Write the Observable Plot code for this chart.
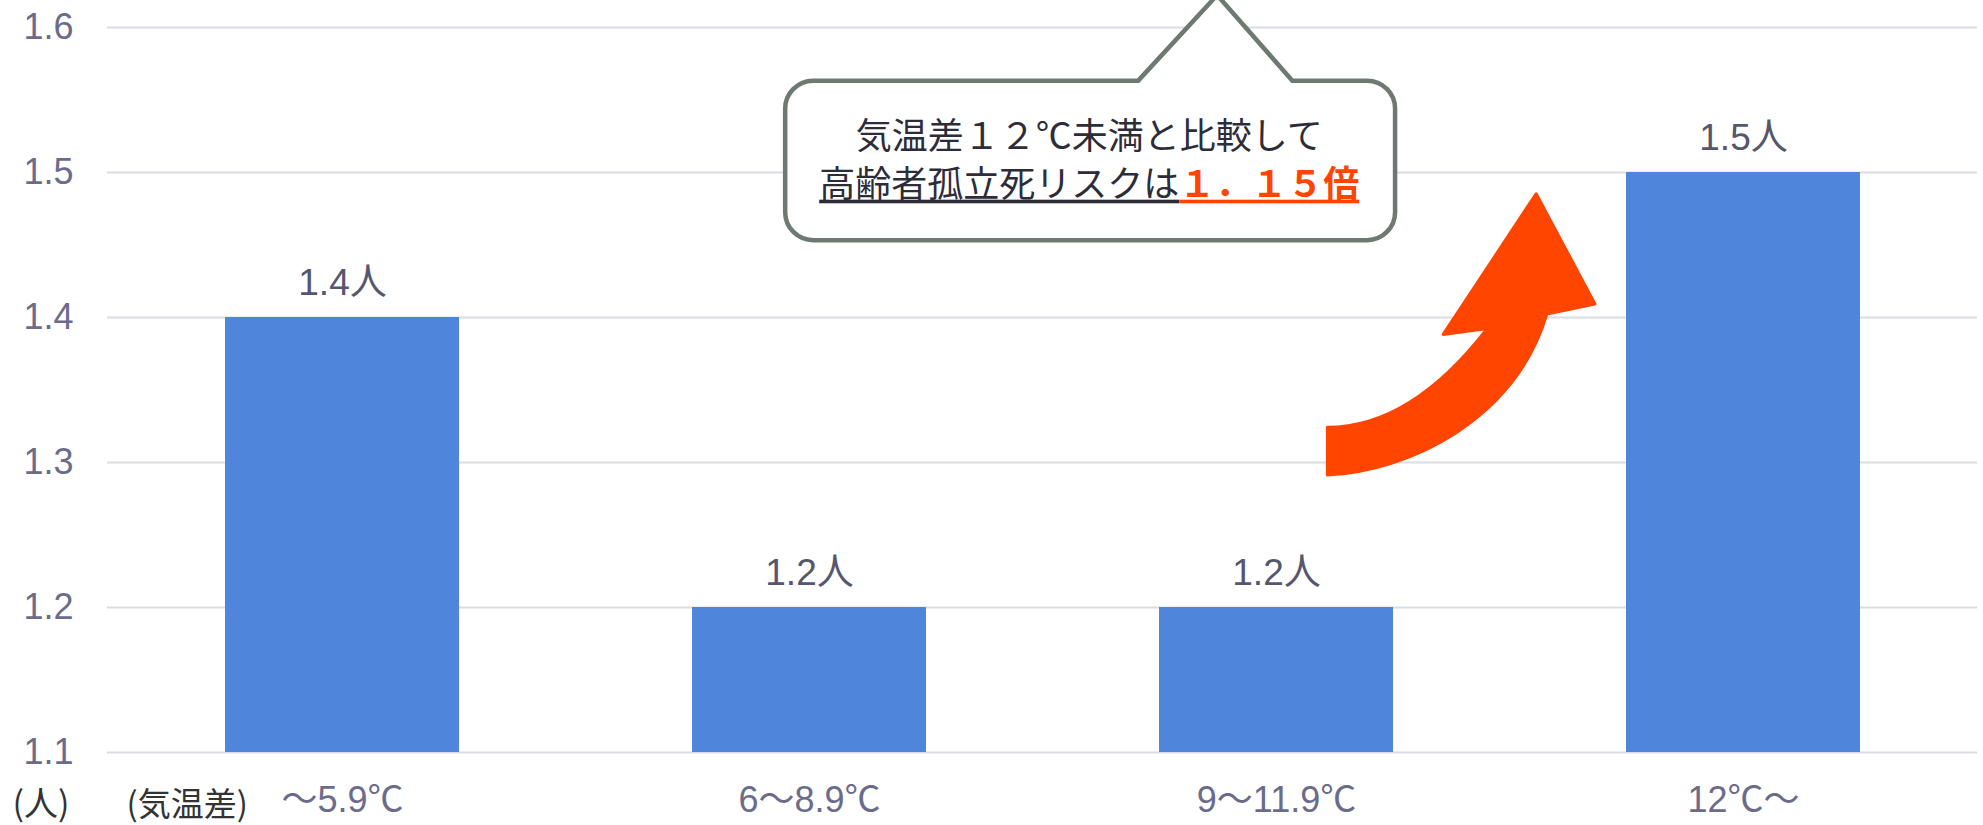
<!DOCTYPE html>
<html><head><meta charset="utf-8">
<script src="https://cdn.jsdelivr.net/npm/d3@7"></script>
<script src="https://cdn.jsdelivr.net/npm/@observablehq/plot@0.6"></script>
<style>body{margin:0;background:#fff}</style>
</head><body><div id="chart"></div>
<script>
// ---- data ----
const categories = ["～5.9℃", "6～8.9℃", "9～11.9℃", "12℃～"];
const values = [1.4, 1.2, 1.2, 1.5];
const yTicks = [1.1, 1.2, 1.3, 1.4, 1.5, 1.6];
const valueSuffix = "人";
const unitLabel = "(人)";
const categoryTitle = "(気温差)";
const calloutLine1 = "気温差１２℃未満と比較して";
const calloutLine2a = "高齢者孤立死リスクは";
const calloutLine2b = "１．１５倍";
// annotation geometry in data space: x = position in category steps (0 = centre of first category), y = value
const calloutBox = [[0.949, 1.563], [2.255, 1.453]];
const calloutPointer = [[1.705, 1.563], [1.874, 1.622], [2.035, 1.563]];
const calloutTextPos = [[1.600, 1.527], [1.600, 1.494]];
const arrowTail = [[2.110, 1.324], [2.110, 1.291]];
const arrowInnerCtrl = [2.289, 1.324];
const arrowHead = [[2.452, 1.392], [2.358, 1.388], [2.557, 1.485], [2.683, 1.409], [2.580, 1.402]];
const arrowOuterCtrl = [[2.512, 1.329], [2.287, 1.294]];

const data = categories.map((c, i) => ({cat: c, value: values[i]}));

function annotations(index, scales) {
  const sx = scales.x, sy = scales.y;
  const bw = typeof sx.bandwidth === "function" ? sx.bandwidth() : 0;
  const x0 = sx(categories[0]) + bw / 2;
  const step = sx(categories[1]) - sx(categories[0]);
  const X = p => x0 + p * step, Y = v => sy(v);
  const P = ([a, b]) => [X(a), Y(b)];
  const g = d3.create("svg:g");

  // arrow
  const [A, B] = arrowTail.map(P);
  const ic = P(arrowInnerCtrl);
  const [G, F, E, D, C] = arrowHead.map(P);
  const [oc2, oc1] = arrowOuterCtrl.map(P);
  const ap = d3.path();
  ap.moveTo(...A);
  ap.quadraticCurveTo(ic[0], ic[1], G[0], G[1]);
  ap.lineTo(...F); ap.lineTo(...E); ap.lineTo(...D); ap.lineTo(...C);
  ap.bezierCurveTo(oc2[0], oc2[1], oc1[0], oc1[1], B[0], B[1]);
  ap.closePath();
  g.append("path").attr("d", ap.toString())
    .attr("fill", "#ff4500").attr("stroke", "#ff4500")
    .attr("stroke-width", 3).attr("stroke-linejoin", "round");

  // callout
  const [bx1, by1] = P(calloutBox[0]);
  const [bx2, by2] = P(calloutBox[1]);
  const [pl, pa, pr] = calloutPointer.map(P);
  const r = 28;
  const cp = d3.path();
  cp.moveTo(bx1 + r, by1);
  cp.lineTo(...pl); cp.lineTo(...pa); cp.lineTo(...pr);
  cp.lineTo(bx2 - r, by1);
  cp.arcTo(bx2, by1, bx2, by1 + r, r);
  cp.lineTo(bx2, by2 - r);
  cp.arcTo(bx2, by2, bx2 - r, by2, r);
  cp.lineTo(bx1 + r, by2);
  cp.arcTo(bx1, by2, bx1, by2 - r, r);
  cp.lineTo(bx1, by1 + r);
  cp.arcTo(bx1, by1, bx1 + r, by1, r);
  cp.closePath();
  g.append("path").attr("d", cp.toString())
    .attr("fill", "#fff").attr("stroke", "#6e7a71")
    .attr("stroke-width", 4.5).attr("stroke-linejoin", "miter");

  const font = "'Noto Sans CJK JP', sans-serif";
  const [t1, t2] = calloutTextPos.map(P);
  g.append("text").attr("x", t1[0]).attr("y", t1[1])
    .attr("text-anchor", "middle").attr("dominant-baseline", "central")
    .attr("font-family", font).attr("font-size", 36).attr("fill", "#2d2d3a")
    .text(calloutLine1);
  const l2 = g.append("text").attr("x", t2[0]).attr("y", t2[1])
    .attr("text-anchor", "middle").attr("dominant-baseline", "central")
    .attr("font-family", font).attr("font-size", 36);
  l2.append("tspan").attr("fill", "#2d2d3a").attr("text-decoration", "underline").text(calloutLine2a);
  l2.append("tspan").attr("fill", "#ff4500").attr("font-weight", "bold").attr("text-decoration", "underline").text(calloutLine2b);
  return g.node();
}

const plot = Plot.plot({
  width: 1983,
  height: 825,
  marginTop: 27,
  marginBottom: 73,
  marginLeft: 107,
  marginRight: 6,
  style: {
    fontFamily: "'Liberation Sans', Arial, 'Noto Sans CJK JP', sans-serif",
    fontSize: "36px",
    color: "#6b6b8b",
    background: "#fff",
    overflow: "hidden"
  },
  x: {domain: categories, paddingInner: 0.5, paddingOuter: 0.25, tickSize: 0, tickPadding: 34, label: null},
  y: {domain: [1.1, 1.6], ticks: yTicks, tickSize: 0, tickPadding: 34, tickFormat: d => d.toFixed(1), label: null},
  marks: [
    Plot.ruleY(yTicks, {stroke: "#dcdce4", strokeWidth: 2}),
    Plot.barY(data, {x: "cat", y1: () => 1.1, y2: "value", fill: "#4f86dc"}),
    Plot.text(data, {x: "cat", y: "value", text: d => `${d.value}${valueSuffix}`, lineAnchor: "bottom", dy: -23, fontSize: 37, fill: "#56566f"}),
    Plot.text([unitLabel], {frameAnchor: "bottom-left", text: d => d, textAnchor: "start", lineAnchor: "middle", dx: -95, dy: 53, fontSize: 34, fill: "#333", fontFamily: "'Noto Sans CJK JP', sans-serif"}),
    Plot.text([categoryTitle], {frameAnchor: "bottom-left", text: d => d, textAnchor: "start", lineAnchor: "middle", dx: 19, dy: 53, fontSize: 33, fill: "#333", fontFamily: "'Noto Sans CJK JP', sans-serif"}),
    annotations
  ]
});
document.getElementById("chart").appendChild(plot);
</script>
</body></html>
